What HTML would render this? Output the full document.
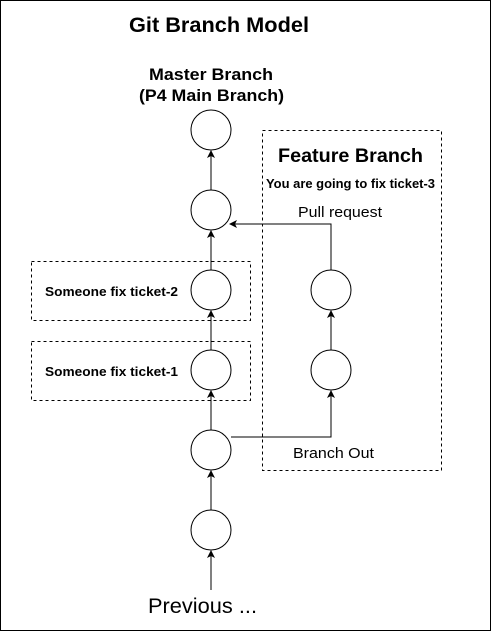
<!DOCTYPE html>
<html><head><style>body{margin:0;background:#fff}svg{display:block}text{font-family:"Liberation Sans",Arial,sans-serif;fill:#000}</style></head>
<body>
<svg width="491" height="631" viewBox="0 0 491 631" xmlns="http://www.w3.org/2000/svg">
<defs><marker id="a" markerWidth="8" markerHeight="8" refX="7" refY="4" orient="auto" markerUnits="userSpaceOnUse"><path d="M0,0 L8,4 L0,8 L2,4 Z" fill="#000"/></marker></defs>
<rect x="0.5" y="0.5" width="490" height="630" fill="#fff" stroke="#000"/>
<text x="129" y="32" font-size="21" font-weight="bold" textLength="180" lengthAdjust="spacingAndGlyphs">Git Branch Model</text>
<text x="149" y="80" font-size="16.5" font-weight="bold" textLength="124" lengthAdjust="spacingAndGlyphs">Master Branch</text>
<text x="139" y="101" font-size="16.5" font-weight="bold" textLength="145" lengthAdjust="spacingAndGlyphs">(P4 Main Branch)</text>
<g fill="none" stroke="#000" stroke-dasharray="3,3">
<rect x="262.5" y="130.5" width="179" height="340"/>
<rect x="31.5" y="261.5" width="219" height="59"/>
<rect x="31.5" y="341.5" width="219" height="59"/>
</g>
<text x="278" y="162" font-size="19" font-weight="bold" textLength="145" lengthAdjust="spacingAndGlyphs">Feature Branch</text>
<text x="266" y="188" font-size="12.5" font-weight="bold" textLength="169" lengthAdjust="spacingAndGlyphs">You are going to fix ticket-3</text>
<text x="45" y="296" font-size="13" font-weight="bold" textLength="133" lengthAdjust="spacingAndGlyphs">Someone fix ticket-2</text>
<text x="45" y="376" font-size="13" font-weight="bold" textLength="133" lengthAdjust="spacingAndGlyphs">Someone fix ticket-1</text>
<text x="298" y="217" font-size="15" textLength="84" lengthAdjust="spacingAndGlyphs">Pull request</text>
<text x="293" y="458" font-size="15" textLength="81" lengthAdjust="spacingAndGlyphs">Branch Out</text>
<text x="148" y="613" font-size="21" textLength="109" lengthAdjust="spacingAndGlyphs">Previous ...</text>
<g fill="#fff" stroke="#000">
<circle cx="211" cy="130" r="20"/><circle cx="211" cy="210" r="20"/><circle cx="211" cy="290" r="20"/>
<circle cx="211" cy="370" r="20"/><circle cx="211" cy="450" r="20"/><circle cx="211" cy="530" r="20"/>
<circle cx="331" cy="290" r="20"/><circle cx="331" cy="370" r="20"/>
</g>
<g stroke="#000" fill="none" marker-end="url(#a)">
<line x1="211" y1="590" x2="211" y2="551"/>
<line x1="211" y1="510" x2="211" y2="471"/>
<line x1="211" y1="430" x2="211" y2="391"/>
<line x1="211" y1="350" x2="211" y2="311"/>
<line x1="211" y1="270" x2="211" y2="231"/>
<line x1="211" y1="190" x2="211" y2="151"/>
<line x1="331" y1="350" x2="331" y2="311"/>
<polyline points="231,437 331,437 331,391"/>
<polyline points="331,270 331,224 230,224"/>
</g>
</svg>
</body></html>
